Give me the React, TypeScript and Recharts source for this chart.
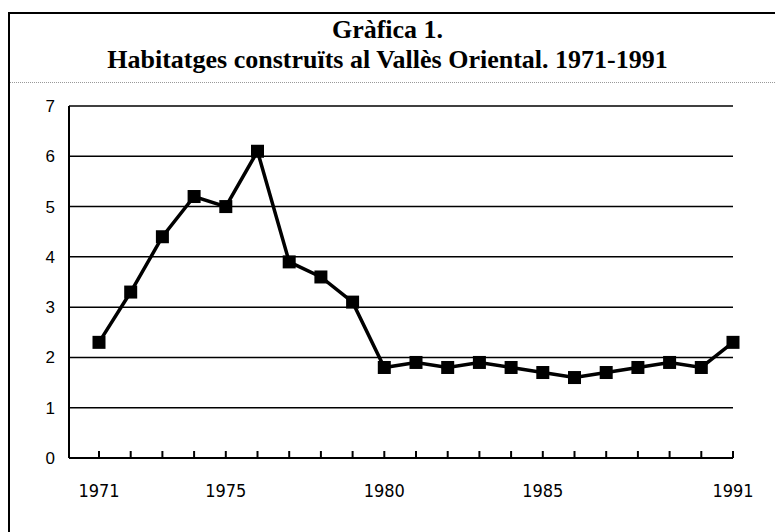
import { LineChart, Line, XAxis, YAxis, CartesianGrid } from 'recharts';

const years = [
    '1971', '1972', '1973', '1974', '1975', '1976', '1977', '1978', '1979', '1980', '1981',
    '1982', '1983', '1984', '1985', '1986', '1987', '1988', '1989', '1990', '1991',
];
const habitatges = [
    2.3, 3.3, 4.4, 5.2, 5.0, 6.1, 3.9, 3.6, 3.1, 1.8, 1.9,
    1.8, 1.9, 1.8, 1.7, 1.6, 1.7, 1.8, 1.9, 1.8, 2.3,
];
const labelledYears = ['1971', '1975', '1980', '1985', '1991'];
const yTicks = [0, 1, 2, 3, 4, 5, 6, 7];

const data = years.map((year, i) => ({ year, value: habitatges[i] }));

// small inward tick on every year, label only on some
function YearTick(props: any) {
    const { x, y, payload } = props;
    const show = labelledYears.includes(payload.value);
    return (
        <g>
            <line x1={x} x2={x} y1={y - 7} y2={y} stroke="#000" strokeWidth={2} />
            {show && (
                <text x={x} y={y + 39} textAnchor="middle" fontSize={18}
                    fontFamily="'Liberation Sans Narrow', 'DejaVu Sans Condensed', sans-serif" fill="#000">
                    {payload.value}
                </text>
            )}
        </g>
    );
}

function SquareDot(props: any) {
    const { cx, cy } = props;
    if (cx == null || cy == null) return null;
    return <rect x={cx - 6.5} y={cy - 6.5} width={13} height={13} fill="#000" />;
}

export default function App() {
    return (
        <div style={{ position: 'fixed', left: 0, top: 0, width: 775, height: 532, background: '#fff' }}>
            <div style={{
                position: 'absolute', left: 8, top: 12, width: 767, height: 520,
                borderTop: '2px solid #000', borderLeft: '2px solid #000',
            }} />
            <div style={{
                position: 'absolute', left: 0, top: 15, width: 775, textAlign: 'center',
                fontFamily: "'Liberation Serif', serif", fontWeight: 'bold', fontSize: 26, lineHeight: '30px', color: '#000',
            }}>
                <div>Gràfica 1.</div>
                <div>Habitatges construïts al Vallès Oriental. 1971-1991</div>
            </div>
            <div style={{ position: 'absolute', left: 10, top: 82, width: 765, borderTop: '1px dotted #999' }} />
            <LineChart width={775} height={532} data={data}
                margin={{ top: 106, right: 42, bottom: 44, left: 9 }}>
                <CartesianGrid vertical={false} stroke="#000" strokeWidth={1.5} yAxisId="left" />
                <XAxis dataKey="year" interval={0} tick={<YearTick />} tickLine={false} tickSize={0}
                    tickMargin={0} axisLine={{ stroke: '#000', strokeWidth: 2 }} padding={{ left: 30, right: 0 }} />
                <YAxis yAxisId="left" domain={[0, 7]} ticks={yTicks} width={60} tickLine={false}
                    tickSize={0} tickMargin={14} axisLine={{ stroke: '#000', strokeWidth: 2 }}
                    tick={{ fill: '#000', fontSize: 17, fontFamily: "'Liberation Sans', Arial, sans-serif" }} />
                <YAxis yAxisId="right" orientation="right" domain={[0, 7]} width={0} tick={false}
                    tickLine={false} axisLine={{ stroke: '#000', strokeWidth: 1.5 }} />
                <Line yAxisId="left" dataKey="value" stroke="#000" strokeWidth={3.5} dot={<SquareDot />}
                    activeDot={false} isAnimationActive={false} />
            </LineChart>
        </div>
    );
}
